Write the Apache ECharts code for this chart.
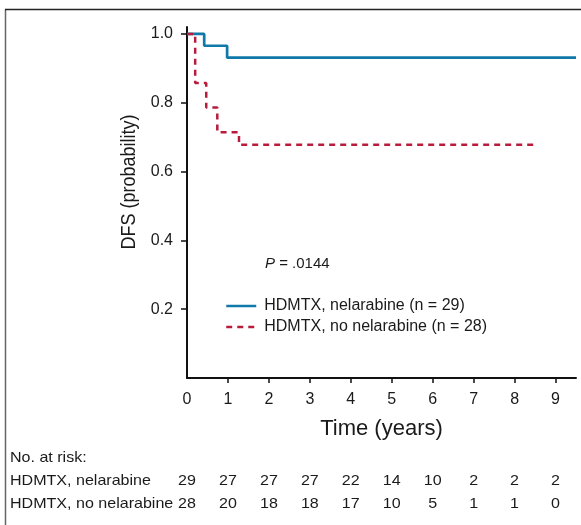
<!DOCTYPE html>
<html><head><meta charset="utf-8">
<script src="https://cdn.jsdelivr.net/npm/echarts@6/dist/echarts.min.js"></script>
<style>html,body{margin:0;padding:0;background:#fff}#c{width:581px;height:525px}</style>
</head><body><div id="c"></div>
<script>
// Kaplan-Meier step points: [time (years), DFS probability]
const nelarabineName = 'HDMTX, nelarabine (n = 29)';
const noNelarabineName = 'HDMTX, no nelarabine (n = 28)';
const nelarabineCurve = [[0, 1.0], [0.42, 0.9655], [0.98, 0.931], [9.5, 0.931]];
const noNelarabineCurve = [[0, 1.0], [0.2, 0.857], [0.47, 0.786], [0.74, 0.714], [1.27, 0.678], [8.5, 0.678]];
const xTicks = [0, 1, 2, 3, 4, 5, 6, 7, 8, 9];
const yTicks = [0.2, 0.4, 0.6, 0.8, 1.0];
const riskTimes = [0, 1, 2, 3, 4, 5, 6, 7, 8, 9];
const riskRowLabels = ['HDMTX, nelarabine', 'HDMTX, no nelarabine'];
const riskNelarabine = [29, 27, 27, 27, 22, 14, 10, 2, 2, 2];
const riskNoNelarabine = [28, 20, 18, 18, 17, 10, 5, 1, 1, 0];
const pValueText = '.0144';

const FONT = '"Liberation Sans", Arial, sans-serif';
const BLUE = '#1179a9';
const RED = '#b71c3c';
const chart = echarts.init(document.getElementById('c'), null, {renderer: 'canvas'});

const option = {
  animation: false,
  backgroundColor: '#fff',
  grid: {left: 187, right: 5, top: 27, bottom: 147, containLabel: false},
  xAxis: {
    type: 'value', min: 0, max: 9.5,
    axisLine: {show: true, onZero: false, lineStyle: {color: '#111', width: 2}},
    axisTick: {show: true, length: 5, lineStyle: {color: '#111', width: 1.5}, customValues: xTicks.slice(1)},
    axisLabel: {show: true, margin: 14, fontSize: 16, color: '#1a1a1a', fontFamily: FONT, customValues: xTicks},
    splitLine: {show: false},
    name: 'Time (years)', nameLocation: 'middle', nameGap: 40,
    nameTextStyle: {fontSize: 22, color: '#1a1a1a', fontFamily: FONT}
  },
  yAxis: {
    type: 'value', min: 0, max: 1.02,
    axisLine: {show: true, onZero: false, lineStyle: {color: '#111', width: 2}},
    axisTick: {show: true, length: 6, lineStyle: {color: '#111', width: 1.5}, customValues: yTicks},
    axisLabel: {show: true, margin: 14, fontSize: 16, color: '#1a1a1a', fontFamily: FONT, customValues: yTicks,
      formatter: v => v.toFixed(1)},
    splitLine: {show: false}
  },
  legend: {
    orient: 'vertical', left: 225, top: 298, padding: 0, itemWidth: 30, itemHeight: 14, itemGap: 5,
    itemStyle: {color: 'transparent', borderWidth: 0, opacity: 0},
    lineStyle: {width: 2.5},
    textStyle: {fontSize: 16, color: '#1a1a1a', fontFamily: FONT, padding: [0, 0, 0, 3]},
    data: [nelarabineName, noNelarabineName]
  },
  series: [
    {name: nelarabineName, type: 'line', step: 'end', symbol: 'none', data: nelarabineCurve,
      lineStyle: {color: BLUE, width: 2.7}, itemStyle: {color: BLUE}},
    {name: noNelarabineName, type: 'line', step: 'end', symbol: 'none', data: noNelarabineCurve,
      lineStyle: {color: RED, width: 2.5, type: [6, 5]}, itemStyle: {color: RED}}
  ]
};
chart.setOption(option);

const g = [];
// frame
g.push({type: 'line', shape: {x1: 5.5, y1: 9.5, x2: 5.5, y2: 525}, style: {stroke: '#666', lineWidth: 1.5}});
g.push({type: 'line', shape: {x1: 5, y1: 9.5, x2: 581, y2: 9.5}, style: {stroke: '#222', lineWidth: 1.5}});
// y-axis title
g.push({type: 'text', x: 129, y: 182, rotation: Math.PI / 2, scaleX: 0.9,
  style: {text: 'DFS (probability)', font: '20px ' + FONT, fill: '#1a1a1a', align: 'center', verticalAlign: 'middle'}});
// p value
g.push({type: 'text', x: 265, y: 264,
  style: {text: '{i|P} = ' + pValueText, fill: '#1a1a1a', verticalAlign: 'middle', align: 'left',
    rich: {i: {fontStyle: 'italic', fontSize: 15, fontFamily: FONT, fill: '#1a1a1a'}},
    font: '15px ' + FONT}});
// risk table
const tf = '15px ' + FONT;
g.push({type: 'text', x: 10, y: 458, scaleX: 1.07, style: {text: 'No. at risk:', font: tf, fill: '#1a1a1a', verticalAlign: 'middle'}});
const rows = [riskNelarabine, riskNoNelarabine];
const rowY = [481, 504];
rows.forEach((row, r) => {
  g.push({type: 'text', x: 10, y: rowY[r], scaleX: 1.07, style: {text: riskRowLabels[r], font: tf, fill: '#1a1a1a', verticalAlign: 'middle'}});
  row.forEach((n, i) => {
    const px = chart.convertToPixel({xAxisIndex: 0}, riskTimes[i]);
    g.push({type: 'text', x: px, y: rowY[r], scaleX: 1.07, style: {text: String(n), font: tf, fill: '#1a1a1a', align: 'center', verticalAlign: 'middle'}});
  });
});
chart.setOption({graphic: g});
</script></body></html>
